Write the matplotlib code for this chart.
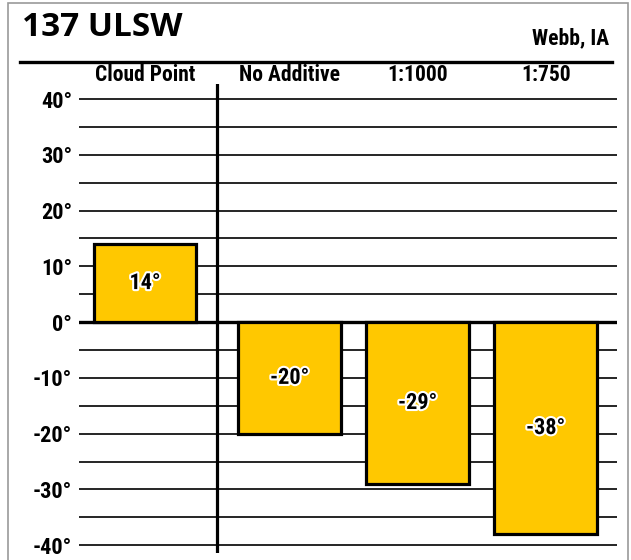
import matplotlib
matplotlib.use("Agg")
import matplotlib.pyplot as plt
import matplotlib.patheffects as pe
from matplotlib import font_manager
from matplotlib.lines import Line2D
from matplotlib.patches import Rectangle
from matplotlib.transforms import blended_transform_factory

# Data
categories = ["Cloud Point", "No Additive", "1:1000", "1:750"]
values = [14, -20, -29, -38]
bar_labels = ["14°", "-20°", "-29°", "-38°"]
y_major = [40, 30, 20, 10, 0, -10, -20, -30, -40]
y_labels = ["40°", "30°", "20°", "10°", "0°", "-10°", "-20°", "-30°", "-40°"]
title = "137 ULSW"
location = "Webb, IA"

# look for a condensed bold face, fall back to DejaVu Sans
narrow_name, narrow_stretch = "DejaVu Sans", "normal"
found = []
for f in font_manager.fontManager.ttflist:
    st = str(f.stretch).lower()
    cond = ("narrow" in f.name.lower() or "condensed" in f.name.lower()
            or st in ("condensed", "semi-condensed", "extra-condensed", "500", "600", "700")
            or (st.isdigit() and int(st) < 500))
    if cond:
        found.append((f.name, f.stretch, f.weight))
for pref in ["Liberation Sans Narrow", "Roboto Condensed", "Open Sans Condensed",
             "Noto Sans", "DejaVu Sans", "Open Sans", "Roboto"]:
    hits = [x for x in found if x[0] == pref]
    if hits:
        narrow_name, narrow_stretch = hits[0][0], hits[0][1]
        break
narrow = dict(family=[narrow_name, "DejaVu Sans"], fontstretch=narrow_stretch,
              fontweight="bold")
gold = "#FFC800"

fig = plt.figure(figsize=(6.31, 5.6), dpi=100)
ax = fig.add_axes([79 / 631, 1 - 553 / 560, 538 / 631, (553 - 84) / 560])

# bar positions (first one sits apart, left of the divider)
xpos = [0, 1.13, 2.13, 3.13]
ax.bar(xpos, values, width=0.8, color=gold, edgecolor="black", linewidth=2.3, zorder=3)

glow = [pe.withStroke(linewidth=3, foreground="white")]
for x, v, lab in zip(xpos, values, bar_labels):
    ax.text(x, v / 2, lab, ha="center", va="center", fontsize=16, zorder=4,
            path_effects=glow, **narrow)

# horizontal rules every 5 degrees
for y in range(-40, 41, 5):
    ax.axhline(y, color="black", lw=1.2 if y != 0 else 2.4, zorder=1)

ax.axvline(0.5625, color="black", lw=2.3, zorder=2)

ax.set_xlim(-0.516, 3.6875)
ax.set_ylim(-41.4, 42.7)
ax.set_yticks(y_major)
ax.set_yticklabels(y_labels, fontsize=16, **narrow)
ax.tick_params(axis="y", length=0, pad=5)
ax.set_xticks([])
for s in ax.spines.values():
    s.set_visible(False)

# category headers
tr = blended_transform_factory(ax.transData, fig.transFigure)
for x, c in zip(xpos, categories):
    ax.text(x, 1 - 75 / 560, c, transform=tr, ha="center", va="center",
            fontsize=15.5, **narrow)

# header
fig.text(22 / 631, 1 - 28 / 560, title, ha="left", va="center", fontsize=24,
         fontweight="bold", family=["Open Sans", "DejaVu Sans"])
fig.text(609 / 631, 1 - 38 / 560, location, ha="right", va="center", fontsize=15.5,
         **narrow)
fig.add_artist(Line2D([20 / 631, 612 / 631], [1 - 62 / 560] * 2, color="black",
                      lw=2.4, transform=fig.transFigure))
fig.add_artist(Rectangle((8 / 631, -0.01), 620 / 631, 1 - 3 / 560 + 0.01, fill=False,
                         edgecolor="#9a9a9a", lw=1.2, transform=fig.transFigure))

fig.savefig("out.png", dpi=100)
